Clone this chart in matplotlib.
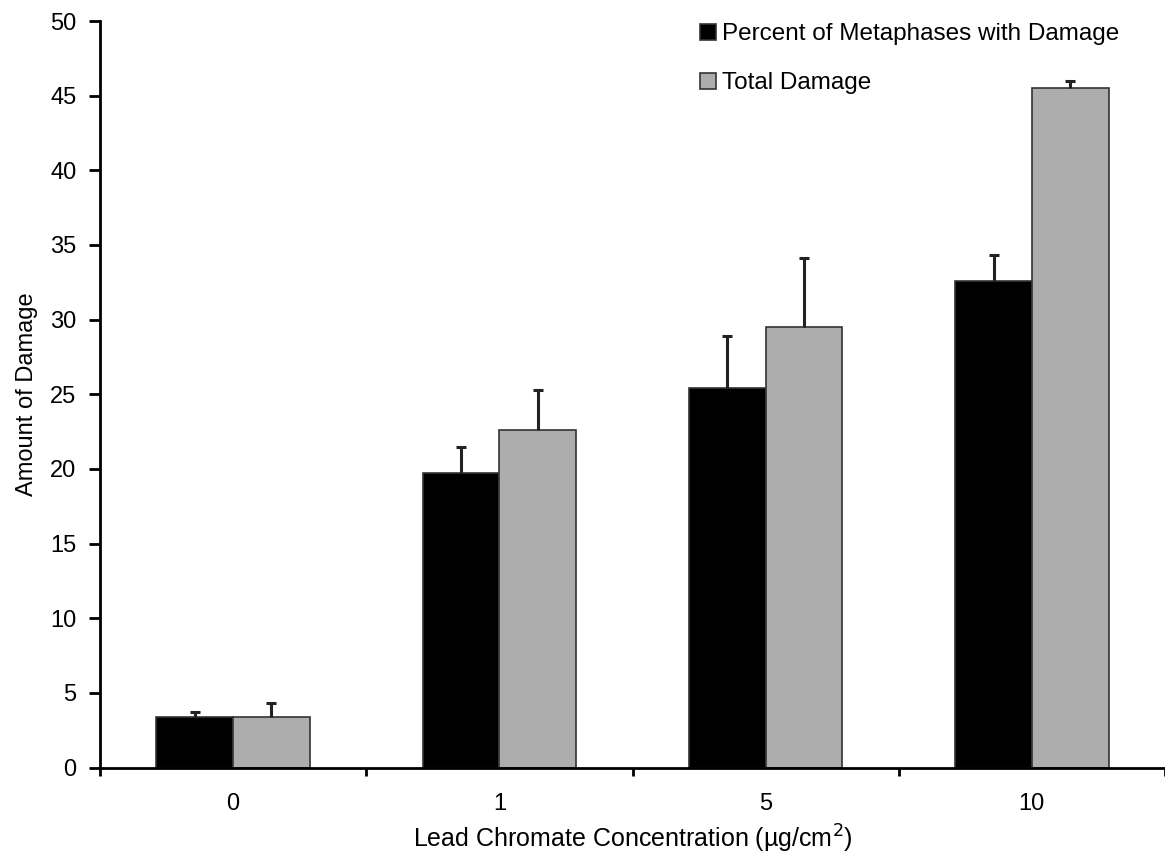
import numpy as np
import matplotlib
matplotlib.use("Agg")
import matplotlib.pyplot as plt

# Lead chromate concentrations (µg/cm²) and chromosome damage measurements
concentrations = ["0", "1", "5", "10"]
percent_metaphases = [3.4, 19.7, 25.4, 32.6]
percent_metaphases_err = [0.35, 1.8, 3.5, 1.7]
total_damage = [3.4, 22.6, 29.5, 45.5]
total_damage_err = [0.9, 2.7, 4.6, 0.5]

series_labels = ["Percent of Metaphases with Damage", "Total Damage"]
y_ticks = [0, 5, 10, 15, 20, 25, 30, 35, 40, 45, 50]

plt.rcParams["font.family"] = ["Liberation Sans", "DejaVu Sans"]

W, H = 1165, 856
fig = plt.figure(figsize=(W / 100, H / 100), dpi=100)
ax = fig.add_axes([100 / W, (H - 767.5) / H, (1165 - 100) / W, (767.5 - 21) / H])

x = np.arange(len(concentrations))
bw = 0.288
err_kw = dict(ecolor="#222222", elinewidth=2.2, capsize=3.7, capthick=2.2, zorder=3)

bars_a = ax.bar(x - bw / 2, percent_metaphases, bw, color="black", edgecolor="#333333",
                linewidth=1.2, label=series_labels[0],
                yerr=[np.zeros(len(x)), percent_metaphases_err], error_kw=err_kw, zorder=2)
bars_b = ax.bar(x + bw / 2, total_damage, bw, color="#adadad", edgecolor="#333333",
                linewidth=1.2, label=series_labels[1],
                yerr=[np.zeros(len(x)), total_damage_err], error_kw=err_kw, zorder=2)

# one-sided error bars: hide the cap sitting on top of each bar
for cont in (bars_a, bars_b):
    caplines = cont.errorbar.lines[1]
    if caplines:
        caplines[0].set_visible(False)

ax.set_xlim(-0.5, 3.5 - 3 / 267)
ax.set_ylim(0, 50)
ax.set_yticks(y_ticks)
ax.set_xticks(x)
ax.set_xticklabels(concentrations)
ax.set_xticks(np.arange(len(concentrations) + 1) - 0.5, minor=True)

ax.tick_params(axis="y", direction="out", length=8, width=2, labelsize=17, pad=9)
ax.tick_params(axis="x", which="major", length=0, labelsize=17, pad=18)
ax.tick_params(axis="x", which="minor", direction="out", length=6, width=2)

for side in ("top", "right"):
    ax.spines[side].set_visible(False)
for side in ("left", "bottom"):
    ax.spines[side].set_linewidth(2)

ax.set_ylabel("Amount of Damage", fontsize=17, labelpad=9)
ax.set_xlabel("Lead Chromate Concentration (µg/cm$^{2}$)", fontsize=18, labelpad=6)

leg = ax.legend(loc="upper left", bbox_to_anchor=(590 / 1065, 1.01), frameon=False,
                fontsize=17.5, handlelength=0.65, handleheight=0.65, handletextpad=0.25,
                labelspacing=1.12, borderaxespad=0)

fig.savefig("out.png", dpi=100)
